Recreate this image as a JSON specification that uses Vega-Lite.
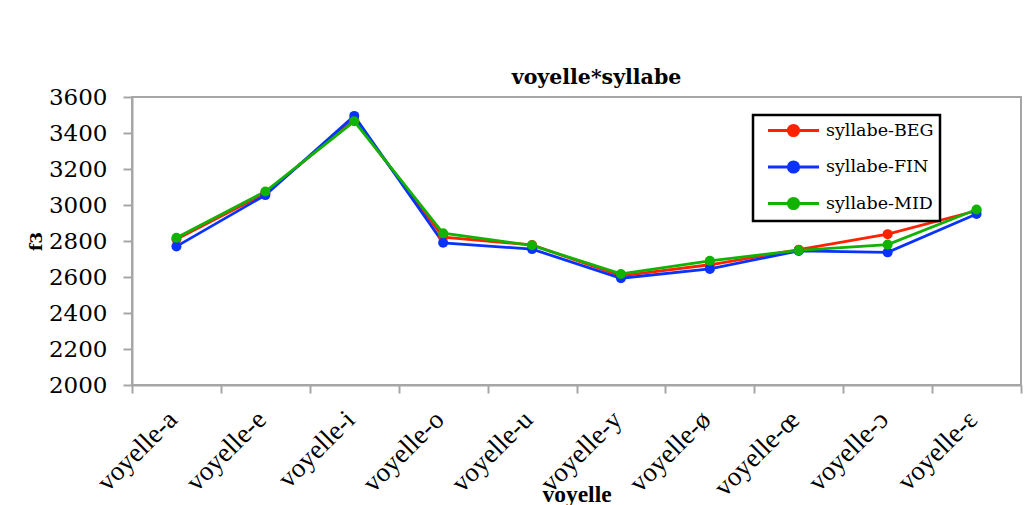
{
  "$schema": "https://vega.github.io/schema/vega-lite/v6.json",
  "autosize": "none",
  "width": 889,
  "height": 288,
  "padding": {"left": 132, "top": 97, "right": 10, "bottom": 120},
  "background": "white",
  "title": {
    "text": "voyelle*syllabe",
    "font": "DejaVu Serif",
    "fontSize": 20.5,
    "fontWeight": "bold",
    "color": "black",
    "dx": 20,
    "offset": -2
  },
  "config": {
    "view": {"stroke": "#a6a6a6", "strokeWidth": 2},
    "legend": {"strokeColor": "black", "strokeWidth": 2.5, "fillColor": "white"}
  },
  "data": {
    "values": [
      {"voyelle": "voyelle-a", "syllabe": "syllabe-BEG", "f3": 2810},
      {"voyelle": "voyelle-a", "syllabe": "syllabe-FIN", "f3": 2770},
      {"voyelle": "voyelle-a", "syllabe": "syllabe-MID", "f3": 2818},
      {"voyelle": "voyelle-e", "syllabe": "syllabe-BEG", "f3": 3065},
      {"voyelle": "voyelle-e", "syllabe": "syllabe-FIN", "f3": 3055},
      {"voyelle": "voyelle-e", "syllabe": "syllabe-MID", "f3": 3075},
      {"voyelle": "voyelle-i", "syllabe": "syllabe-BEG", "f3": 3475},
      {"voyelle": "voyelle-i", "syllabe": "syllabe-FIN", "f3": 3495},
      {"voyelle": "voyelle-i", "syllabe": "syllabe-MID", "f3": 3465},
      {"voyelle": "voyelle-o", "syllabe": "syllabe-BEG", "f3": 2822},
      {"voyelle": "voyelle-o", "syllabe": "syllabe-FIN", "f3": 2790},
      {"voyelle": "voyelle-o", "syllabe": "syllabe-MID", "f3": 2843},
      {"voyelle": "voyelle-u", "syllabe": "syllabe-BEG", "f3": 2778},
      {"voyelle": "voyelle-u", "syllabe": "syllabe-FIN", "f3": 2755},
      {"voyelle": "voyelle-u", "syllabe": "syllabe-MID", "f3": 2776},
      {"voyelle": "voyelle-y", "syllabe": "syllabe-BEG", "f3": 2606},
      {"voyelle": "voyelle-y", "syllabe": "syllabe-FIN", "f3": 2593},
      {"voyelle": "voyelle-y", "syllabe": "syllabe-MID", "f3": 2617},
      {"voyelle": "voyelle-ø", "syllabe": "syllabe-BEG", "f3": 2668},
      {"voyelle": "voyelle-ø", "syllabe": "syllabe-FIN", "f3": 2645},
      {"voyelle": "voyelle-ø", "syllabe": "syllabe-MID", "f3": 2690},
      {"voyelle": "voyelle-œ", "syllabe": "syllabe-BEG", "f3": 2752},
      {"voyelle": "voyelle-œ", "syllabe": "syllabe-FIN", "f3": 2745},
      {"voyelle": "voyelle-œ", "syllabe": "syllabe-MID", "f3": 2748},
      {"voyelle": "voyelle-ɔ", "syllabe": "syllabe-BEG", "f3": 2838},
      {"voyelle": "voyelle-ɔ", "syllabe": "syllabe-FIN", "f3": 2737},
      {"voyelle": "voyelle-ɔ", "syllabe": "syllabe-MID", "f3": 2780},
      {"voyelle": "voyelle-ɛ", "syllabe": "syllabe-BEG", "f3": 2968},
      {"voyelle": "voyelle-ɛ", "syllabe": "syllabe-FIN", "f3": 2950},
      {"voyelle": "voyelle-ɛ", "syllabe": "syllabe-MID", "f3": 2975}
    ]
  },
  "mark": {"type": "line", "strokeWidth": 2.8, "point": {"filled": true, "size": 100, "opacity": 1}},
  "encoding": {
    "x": {
      "field": "voyelle",
      "type": "nominal",
      "sort": null,
      "bandPosition": 0.5,
      "scale": {"type": "band", "paddingInner": 0, "paddingOuter": 0},
      "axis": {
        "title": "voyelle",
        "titleFont": "Liberation Serif",
        "titleFontSize": 23.5,
        "titleFontWeight": "bold",
        "titleColor": "black",
        "titleBaseline": "top",
        "titleY": 97,
        "labelAngle": -45,
        "labelFont": "Liberation Serif",
        "labelFontSize": 27,
        "labelColor": "black",
        "labelPadding": 13,
        "labelOffset": -13,
        "labelOverlap": false,
        "tickBand": "extent",
        "tickSize": 8,
        "tickColor": "#a6a6a6",
        "tickWidth": 2,
        "domainColor": "#a6a6a6",
        "domainWidth": 2,
        "grid": false
      }
    },
    "y": {
      "field": "f3",
      "type": "quantitative",
      "scale": {"domain": [2000, 3600], "nice": false, "zero": false},
      "axis": {
        "title": "f3",
        "titleFont": "DejaVu Serif",
        "titleFontSize": 17,
        "titleFontWeight": "bold",
        "titleColor": "black",
        "titlePadding": 3,
        "format": "d",
        "values": [2000, 2200, 2400, 2600, 2800, 3000, 3200, 3400, 3600],
        "labelFont": "DejaVu Serif",
        "labelFontSize": 23,
        "labelColor": "black",
        "labelPadding": 16,
        "tickSize": 9,
        "tickColor": "#a6a6a6",
        "tickWidth": 2,
        "domainColor": "#a6a6a6",
        "domainWidth": 2,
        "grid": false
      }
    },
    "color": {
      "field": "syllabe",
      "type": "nominal",
      "scale": {"domain": ["syllabe-BEG", "syllabe-FIN", "syllabe-MID"], "range": ["#ff2200", "#0a32ff", "#12b200"]},
      "legend": {
        "title": null,
        "orient": "none",
        "legendX": 621,
        "legendY": 18,
        "padding": 6,
        "symbolType": "M-3.19,0H3.19M0.65,0A0.65,0.65 0 1,1 -0.65,0A0.65,0.65 0 1,1 0.65,0Z",
        "symbolSize": 256,
        "symbolStrokeWidth": 2.8,
        "symbolOffset": 25,
        "labelOffset": 23,
        "labelFont": "DejaVu Serif",
        "labelFontSize": 17.5,
        "labelColor": "black",
        "rowPadding": 13.5,
        "encode": {
          "symbols": {"update": {"fill": {"scale": "color", "field": "value"}, "stroke": {"scale": "color", "field": "value"}}}
        }
      }
    }
  }
}
